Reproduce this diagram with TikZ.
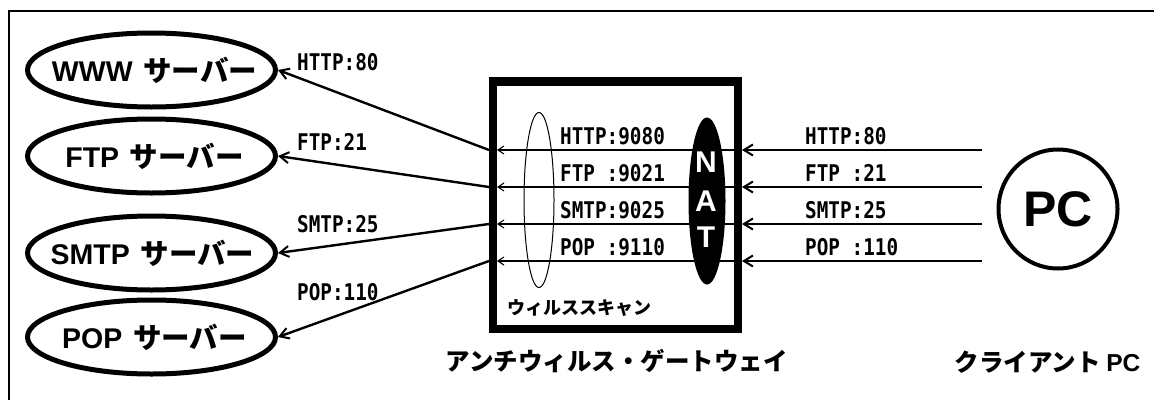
\documentclass[tikz,border=0pt]{standalone}
\usepackage{fontspec}
\usetikzlibrary{shapes.geometric,arrows.meta}
\newfontfamily\jp{Noto Sans CJK JP}
\newfontfamily\lat{Liberation Sans}
\newfontfamily\mono[FakeStretch=0.84]{DejaVu Sans Mono}
\begin{document}
\begin{tikzpicture}[x=1pt,y=-1pt,
  server/.style={ellipse, draw, line width=5pt, minimum width=248pt, minimum height=74pt, inner sep=0pt},
  servertext/.style={inner sep=0pt, font=\bfseries\fontsize{28.5}{28.5}\selectfont},
  port/.style={anchor=base west, inner sep=0pt, font=\mono\bfseries\fontsize{23}{23}\selectfont},
  bigarrow/.style={line width=2.4pt, -{Straight Barb[length=9pt,width=11pt,line width=2pt]}},
  smallarrow/.style={line width=1.1pt, -{Straight Barb[length=6pt,width=8pt,line width=1.1pt]}},
  caption/.style={inner sep=0pt, font=\jp\bfseries\fontsize{24.5}{24.5}\selectfont},
  natletter/.style={inner sep=0pt, text=white, font=\lat\bfseries\fontsize{30}{30}\selectfont}
]
\useasboundingbox (0,0) rectangle (1154,399);
\begin{scope}
\clip (0,0) rectangle (1154,399);
\draw[line width=2pt] (9,11) rectangle (1180,420);
\end{scope}

% servers
\node[server] (www)  at (151.5,70)  {};
\node[server] (ftp)  at (151.5,156) {};
\node[server] (smtp) at (151.5,253) {};
\node[server] (pop)  at (151.5,337) {};
\node[servertext] (wwwtext)  at ([xshift=3pt]www.center)  {{\lat WWW} {\jp サーバー}};
\node[servertext] (ftptext)  at ([xshift=3pt]ftp.center)  {{\lat FTP} {\jp サーバー}};
\node[servertext] (smtptext) at ([xshift=1pt]smtp.center) {{\lat SMTP} {\jp サーバー}};
\node[servertext] (poptext)  at ([xshift=3pt]pop.center)  {{\lat POP} {\jp サーバー}};

% gateway box
\node[draw, line width=8.5pt, minimum width=245pt, minimum height=247.5pt, inner sep=0pt] (gw) at (615.5,205.25) {};
\node[ellipse, draw, line width=1pt, minimum width=30pt, minimum height=175pt, inner sep=0pt] (scan) at (539,200) {};
\node[ellipse, fill=black, minimum width=37pt, minimum height=167pt, inner sep=0pt] (nat) at (707,201) {};
\node[natletter] (natN) at (706,162.5) {N};
\node[natletter] (natA) at (706,201) {A};
\node[natletter] (natT) at (706,237.5) {T};
\node[inner sep=0pt, font=\jp\bfseries\fontsize{18}{18}\selectfont] (scanlabel) at (579.5,308) {ウィルススキャン};

% PC
\node[circle, draw, line width=4pt, minimum size=119pt, inner sep=0pt, font=\lat\bfseries\fontsize{50}{50}\selectfont] (pc) at (1058,209) {PC};

% captions
\node[caption] (gwcap) at (616.5,361) {アンチウィルス・ゲートウェイ};
\node[caption] (pccap) at (1047.5,362) {クライアント {\lat PC}};

% row coordinates
\foreach \i/\y in {1/150,2/187,3/224,4/261}{
  \coordinate (pcE\i) at (982,\y);
  \coordinate (gwR\i) at (742,\y);
  \coordinate (gwRi\i) at (738,\y);
  \coordinate (gwLi\i) at (497,\y);
  \coordinate (gwL\i) at (489,\y);
}

% arrows PC -> gateway
\foreach \i in {1,2,3,4}{
  \draw[bigarrow] (pcE\i) -- (gwR\i);
  \draw[smallarrow] (gwRi\i) -- (gwLi\i);
}
% gateway -> servers
\draw[bigarrow] (gwL1) -- (www.east);
\draw[bigarrow] (gwL2) -- (ftp.east);
\draw[bigarrow] (gwL3) -- (smtp.east);
\draw[bigarrow] (gwL4) -- (pop.east);

% port labels
\node[port] (lw) at (297,70)  {HTTP:80};
\node[port] (lf) at (297,150) {FTP:21};
\node[port] (ls) at (297,232) {SMTP:25};
\node[port] (lp) at (297,300) {POP:110};

\node[port] (iw) at (560,144) {HTTP:9080};
\node[port] (if) at (560,181) {FTP :9021};
\node[port] (is) at (560,218) {SMTP:9025};
\node[port] (ip) at (560,255) {POP :9110};

\node[port] (rw) at (805,144) {HTTP:80};
\node[port] (rf) at (805,181) {FTP :21};
\node[port] (rs) at (805,218) {SMTP:25};
\node[port] (rp) at (805,255) {POP :110};
\end{tikzpicture}
\end{document}
